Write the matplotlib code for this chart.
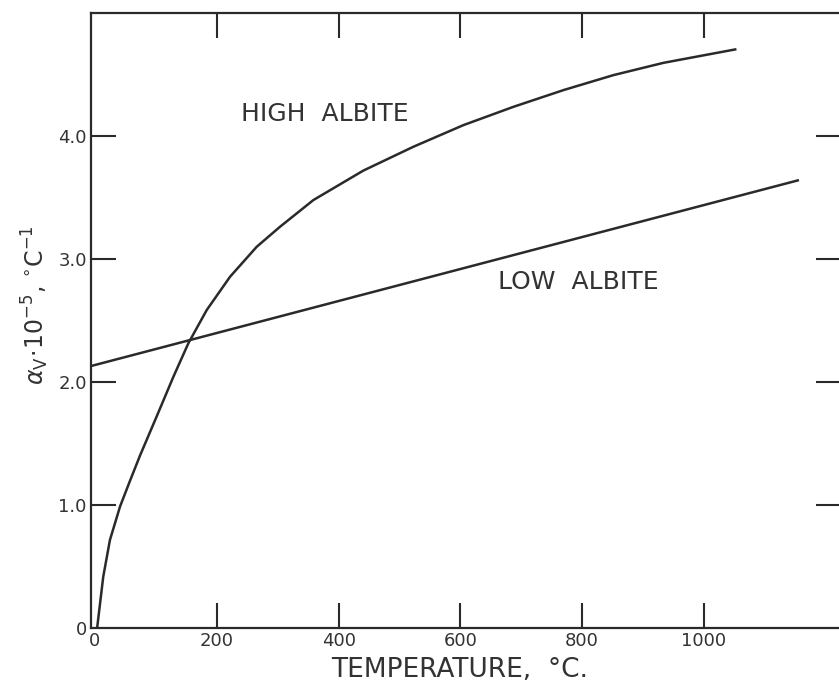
import matplotlib
matplotlib.use("Agg")
import matplotlib.pyplot as plt

# Data
high_T = [3.8, 13.6, 24.6, 41.1, 57.5, 73.9, 101.4, 128.6, 153.3, 183.5, 221.8,
          265.6, 303.9, 358.6, 440.7, 522.9, 605.0, 687.2, 769.3, 851.4, 933.6, 1051.3]
high_a = [0.008, 0.415, 0.714, 0.985, 1.195, 1.40, 1.72, 2.04, 2.314, 2.585, 2.856,
          3.100, 3.263, 3.48, 3.72, 3.914, 4.090, 4.239, 4.375, 4.497, 4.597, 4.706]
low_T = [-6, 1154]
low_a = [2.13, 3.64]

xticks = [0, 200, 400, 600, 800, 1000]
xticklabels = ["0", "200", "400", "600", "800", "1000"]
yticks = [0, 1, 2, 3, 4]
yticklabels = ["0", "1.0", "2.0", "3.0", "4.0"]

plt.rcParams['font.family'] = ['DejaVu Sans']
plt.rcParams['mathtext.fontset'] = 'dejavusans'

W, H = 839, 683
fig = plt.figure(figsize=(W / 100, H / 100), dpi=100)
left, right, top, bottom = 91, 841, 13.3, 627.7
ax = fig.add_axes([left / W, 1 - bottom / H, (right - left) / W, (bottom - top) / H])

line_color = '#2a2a2a'
ax.plot(high_T, high_a, color=line_color, lw=1.8, solid_joinstyle='round')
ax.plot(low_T, low_a, color=line_color, lw=1.8)

XMIN, XMAX = -6.5, 1225
ax.set_xlim(XMIN, XMAX)
ax.set_ylim(0, 5.0)

ax.set_xticks(xticks)
ax.set_xticklabels(xticklabels, fontsize=13, color='#333333')
ax.set_yticks(yticks)
ax.set_yticklabels(yticklabels, fontsize=13, color='#333333')
ax.tick_params(direction='in', length=18, width=1.5, color=line_color,
               top=True, right=True, pad=3)
# no tick marks at the origin (only the labels)
for tk in (ax.xaxis.get_major_ticks()[0], ax.yaxis.get_major_ticks()[0]):
    tk.tick1line.set_visible(False)
    tk.tick2line.set_visible(False)
for s in ax.spines.values():
    s.set_linewidth(1.6)
    s.set_color(line_color)


def px2data(px, py):
    xd = XMIN + (px - left) / (right - left) * (XMAX - XMIN)
    yd = (bottom - py) / (bottom - top) * 5.0
    return xd, yd


x1, y1 = px2data(241, 114)
ax.text(x1, y1, "HIGH  ALBITE", fontsize=18, color='#333333', ha='left', va='center')
x2, y2 = px2data(498, 282)
ax.text(x2, y2, "LOW  ALBITE", fontsize=18, color='#333333', ha='left', va='center')

fig.text(460 / W, 1 - 670 / H, "TEMPERATURE,  °C.", fontsize=19, color='#333333',
         ha='center', va='center')
fig.text(35 / W, 1 - 305 / H, r'$\alpha_{\mathrm{V}}\!\cdot\!\mathrm{10}^{-5}$, $^{\circ}$C$^{-1}$',
         fontsize=17, color='#333333', rotation=90, ha='center', va='center')

fig.savefig("out.png", dpi=100)
